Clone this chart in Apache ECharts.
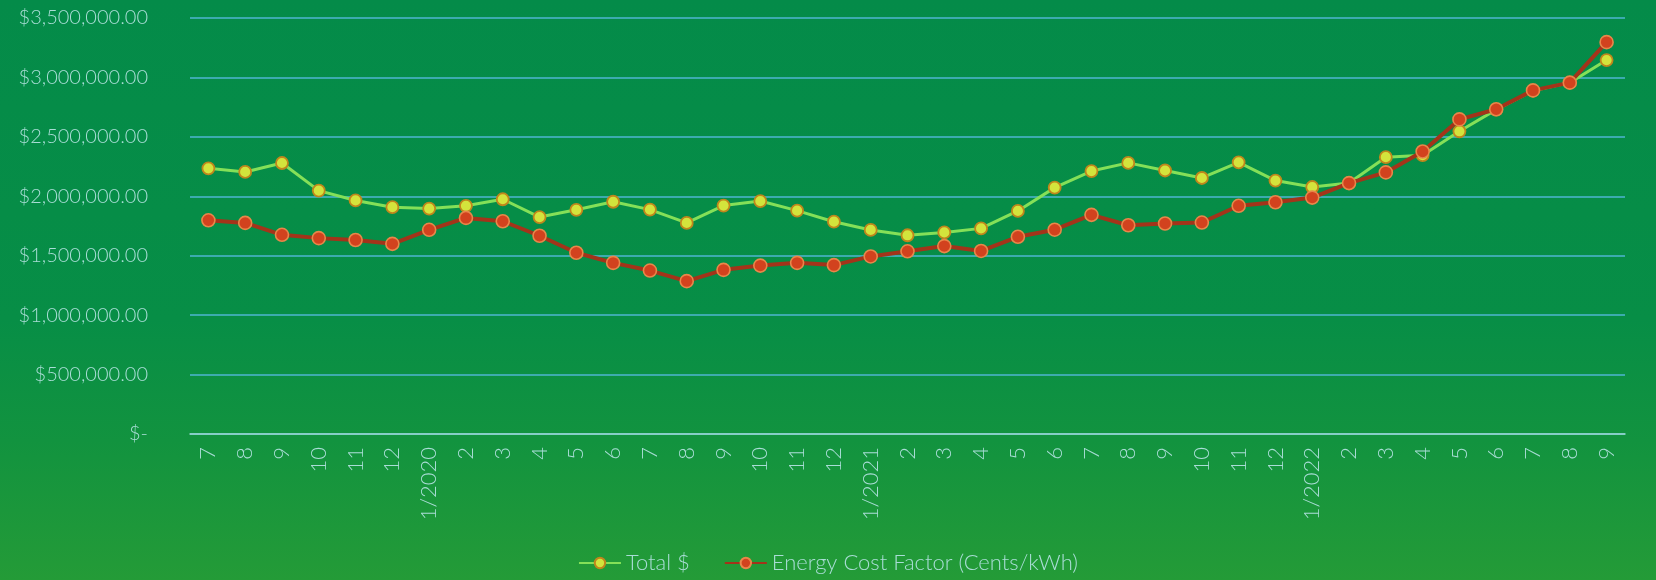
<!DOCTYPE html>
<html>
<head>
<meta charset="utf-8">
<script src="https://cdn.jsdelivr.net/npm/echarts@6/dist/echarts.min.js"></script>
<style>
  html, body { margin: 0; padding: 0; }
  body {
    width: 1656px; height: 580px; overflow: hidden;
    background: linear-gradient(180deg, #048b49 0%, #078e46 55%, #12933f 76%, #249b37 100%);
  }
  #chart { width: 1656px; height: 580px; }
</style>
</head>
<body>
<div id="chart"></div>
<script>
// Month labels, July 2019 through September 2022
const months = [
  '7', '8', '9', '10', '11', '12',
  '1/2020', '2', '3', '4', '5', '6', '7', '8', '9', '10', '11', '12',
  '1/2021', '2', '3', '4', '5', '6', '7', '8', '9', '10', '11', '12',
  '1/2022', '2', '3', '4', '5', '6', '7', '8', '9'
];

// Monthly total spend
const totalDollars = [
  2235000, 2205000, 2280000, 2048000, 1965000, 1908000,
  1897000, 1920000, 1975000, 1825000, 1886000, 1954000,
  1888000, 1776000, 1922000, 1960000, 1879000, 1786000,
  1717000, 1672000, 1696000, 1730000, 1877000, 2073000,
  2212000, 2281000, 2217000, 2154000, 2286000, 2132000,
  2078000, 2111000, 2329000, 2346000, 2547000, 2729000,
  2888000, 2956000, 3146000
];

// Energy cost factor, plotted on the same scale
const energyCostFactor = [
  1798000, 1776000, 1676000, 1648000, 1632000, 1600000,
  1718000, 1818000, 1790000, 1668000, 1525000, 1440000,
  1375000, 1286000, 1381000, 1417000, 1440000, 1421000,
  1494000, 1537000, 1581000, 1540000, 1659000, 1719000,
  1844000, 1756000, 1771000, 1779000, 1920000, 1950000,
  1989000, 2111000, 2201000, 2377000, 2647000, 2732000,
  2891000, 2956000, 3297000
];

const seriesNames = ['Total $', 'Energy Cost Factor (Cents/kWh)'];

const textColor = '#a9ddd6';
const gridColor = '#4fb6d2';
const fontFamily = 'Lato, "Open Sans", sans-serif';

function money(v) {
  if (v === 0) return '$-';
  return '$' + v.toLocaleString('en-US', { minimumFractionDigits: 2, maximumFractionDigits: 2 });
}

const chart = echarts.init(document.getElementById('chart'), null, { renderer: 'canvas' });

chart.setOption({
  backgroundColor: 'transparent',
  animation: false,
  textStyle: { fontFamily: fontFamily },
  grid: { left: 190, right: 31, top: 18, height: 416, containLabel: false },
  legend: {
    bottom: 1,
    left: 'center',
    itemWidth: 42,
    itemHeight: 13,
    itemGap: 34,
    textStyle: { color: textColor, fontSize: 22, fontWeight: 300, fontFamily: fontFamily },
    data: seriesNames
  },
  xAxis: {
    type: 'category',
    data: months,
    boundaryGap: true,
    axisLine: { lineStyle: { color: '#9fd9cf', width: 1.5 } },
    axisTick: { show: false },
    axisLabel: {
      rotate: 90,
      margin: 13,
      interval: 0,
      color: textColor,
      fontSize: 22,
      fontWeight: 300,
      fontFamily: fontFamily
    }
  },
  yAxis: {
    type: 'value',
    min: 0,
    max: 3500000,
    interval: 500000,
    axisLine: { show: false },
    axisTick: { show: false },
    splitLine: { lineStyle: { color: gridColor, width: 1.5 } },
    axisLabel: {
      margin: 42,
      color: textColor,
      fontSize: 20,
      fontWeight: 300,
      fontFamily: fontFamily,
      formatter: money
    }
  },
  series: [
    {
      name: seriesNames[0],
      type: 'line',
      data: totalDollars,
      symbol: 'circle',
      symbolSize: 12,
      lineStyle: { color: '#84e058', width: 3 },
      itemStyle: { color: '#d3e43c', borderColor: '#c0861c', borderWidth: 1.8 },
      z: 2
    },
    {
      name: seriesNames[1],
      type: 'line',
      data: energyCostFactor,
      symbol: 'circle',
      symbolSize: 13,
      lineStyle: { color: '#a3341a', width: 4 },
      itemStyle: { color: '#d2421e', borderColor: '#e8874a', borderWidth: 1.6 },
      z: 3
    }
  ]
});
</script>
</body>
</html>
